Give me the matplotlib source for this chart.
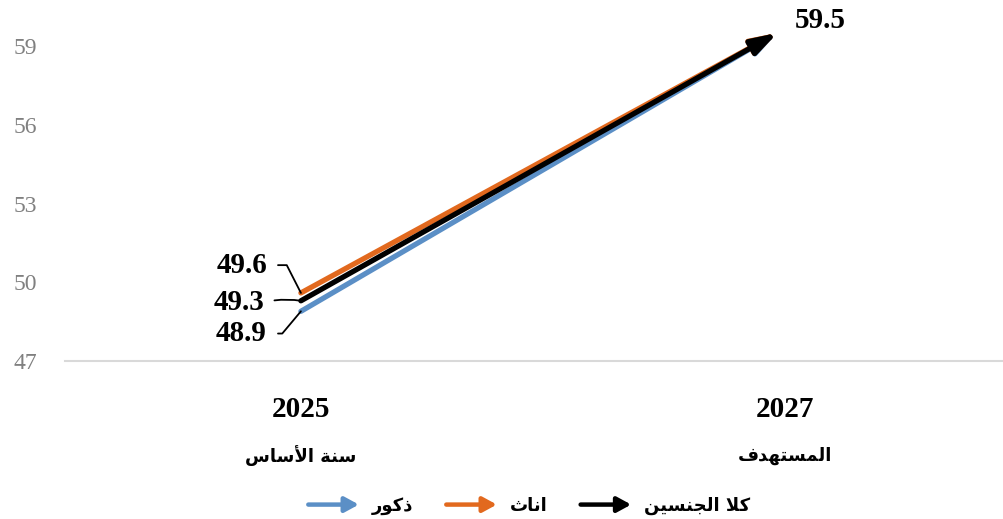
import matplotlib.pyplot as plt
import matplotlib.patches as mpatches
from matplotlib.legend_handler import HandlerPatch

# البيانات
years = ["2025", "2027"]
year_notes = ["سنة الأساس", "المستهدف"]
series_names = ["ذكور", "اناث", "كلا الجنسين"]
males = [48.9, 59.5]
females = [49.6, 59.5]
both = [49.3, 59.5]
y_ticks = [47, 50, 53, 56, 59]

colors = ["#5B8FC6", "#E2691E", "#000000"]

# --- تشكيل الحروف العربية (matplotlib لا يقوم بالتشكيل) ---
FORMS = {
    "ا": ("\uFE8D", "\uFE8E", None, None),
    "أ": ("\uFE83", "\uFE84", None, None),
    "ت": ("\uFE95", "\uFE96", "\uFE97", "\uFE98"),
    "ث": ("\uFE99", "\uFE9A", "\uFE9B", "\uFE9C"),
    "ج": ("\uFE9D", "\uFE9E", "\uFE9F", "\uFEA0"),
    "د": ("\uFEA9", "\uFEAA", None, None),
    "ذ": ("\uFEAB", "\uFEAC", None, None),
    "ر": ("\uFEAD", "\uFEAE", None, None),
    "س": ("\uFEB1", "\uFEB2", "\uFEB3", "\uFEB4"),
    "ف": ("\uFED1", "\uFED2", "\uFED3", "\uFED4"),
    "ك": ("\uFED9", "\uFEDA", "\uFEDB", "\uFEDC"),
    "ل": ("\uFEDD", "\uFEDE", "\uFEDF", "\uFEE0"),
    "م": ("\uFEE1", "\uFEE2", "\uFEE3", "\uFEE4"),
    "ن": ("\uFEE5", "\uFEE6", "\uFEE7", "\uFEE8"),
    "ه": ("\uFEE9", "\uFEEA", "\uFEEB", "\uFEEC"),
    "ة": ("\uFE93", "\uFE94", None, None),
    "و": ("\uFEED", "\uFEEE", None, None),
    "ي": ("\uFEF1", "\uFEF2", "\uFEF3", "\uFEF4"),
}
LAM_ALEF = {"ا": ("\uFEFB", "\uFEFC"), "أ": ("\uFEF7", "\uFEF8")}


def dual(c):
    return c in FORMS and FORMS[c][2] is not None


def shape(text):
    units = []
    i = 0
    while i < len(text):
        c = text[i]
        if c == "ل" and i + 1 < len(text) and text[i + 1] in LAM_ALEF:
            units.append(("LA", text[i + 1]))
            i += 2
        else:
            units.append(("C", c))
            i += 1
    out = []
    for k, (kind, c) in enumerate(units):
        prev = units[k - 1] if k > 0 else None
        nxt = units[k + 1] if k + 1 < len(units) else None
        join_prev = prev is not None and prev[0] == "C" and dual(prev[1])
        if kind == "LA":
            out.append(LAM_ALEF[c][1] if join_prev else LAM_ALEF[c][0])
            continue
        if c not in FORMS:
            out.append(c)
            continue
        join_next = dual(c) and nxt is not None and (nxt[0] == "LA" or nxt[1] in FORMS)
        iso, fin, ini, med = FORMS[c]
        if join_prev and join_next:
            out.append(med)
        elif join_prev:
            out.append(fin)
        elif join_next:
            out.append(ini)
        else:
            out.append(iso)
    return "".join(reversed(out))


plt.rcParams["font.family"] = ["Liberation Serif", "DejaVu Sans"]

fig = plt.figure(figsize=(10.04, 5.19), dpi=100)
ax = fig.add_axes([0.0647, 0.304, 0.9353, 0.696])

x = [0, 1]
for vals, col in zip([males, females, both], colors):
    ax.annotate("", xy=(x[1], vals[1]), xytext=(x[0], vals[0]),
                arrowprops=dict(arrowstyle="-|>,head_length=0.7,head_width=0.22", color=col,
                                lw=3.8, mutation_scale=22, shrinkA=0, shrinkB=0))

ax.set_xlim(-0.495, 1.475)
ax.set_ylim(47, 60.75)
ax.set_yticks(y_ticks)
ax.set_xticks([])
ax.tick_params(axis="y", length=0, labelsize=17, labelcolor="#808080", pad=20)
for sp in ["top", "right", "left"]:
    ax.spines[sp].set_visible(False)
ax.spines["bottom"].set_color("#D9D9D9")
ax.spines["bottom"].set_linewidth(1.5)

# تسميات القيم
lbl = dict(fontsize=21, fontweight="bold", textcoords="offset points",
           ha="right", va="center", annotation_clip=False)
ax.annotate(f"{females[0]:.1f}", xy=(0, females[0]), xytext=(-24.5, 20), **lbl,
            arrowprops=dict(arrowstyle="-", color="black", lw=1.3, relpos=(1, 0.5),
                            shrinkA=6, shrinkB=0,
                            connectionstyle="angle,angleA=0,angleB=117,rad=0"))
ax.annotate(f"{both[0]:.1f}", xy=(0, both[0]), xytext=(-26, -1), **lbl,
            arrowprops=dict(arrowstyle="-", color="black", lw=1.3, relpos=(1, 0.5),
                            shrinkA=5, shrinkB=0,
                            connectionstyle="arc3,rad=-0.1"))
ax.annotate(f"{males[0]:.1f}", xy=(0, males[0]), xytext=(-24.5, -16), **lbl,
            arrowprops=dict(arrowstyle="-", color="black", lw=1.3, relpos=(1, 0.5),
                            shrinkA=6, shrinkB=0,
                            connectionstyle="angle,angleA=0,angleB=-130,rad=0"))
ax.annotate(f"{both[1]:.1f}", xy=(1, both[1]), xytext=(31, 9), fontsize=21,
            fontweight="bold", textcoords="offset points", ha="center", va="center",
            annotation_clip=False)

# تسميات المحور الأفقي
offs = [0, 0.015]
for i, (yr, note) in enumerate(zip(years, year_notes)):
    ax.annotate(yr, xy=(x[i] + offs[i], 0), xycoords=("data", "axes fraction"),
                xytext=(0, -35), textcoords="offset points", ha="center", va="center",
                fontsize=21, fontweight="bold")
    ax.annotate(shape(note), xy=(x[i] + offs[i], 0), xycoords=("data", "axes fraction"),
                xytext=(0, -68), textcoords="offset points", ha="center", va="center",
                fontsize=13, fontweight="bold", family="DejaVu Sans")


def make_arrow(legend, orig_handle, xdescent, ydescent, width, height, fontsize):
    return mpatches.FancyArrowPatch((-xdescent, height / 2), (width - xdescent, height / 2),
                                    arrowstyle="-|>,head_length=0.55,head_width=0.3",
                                    mutation_scale=15, shrinkA=0, shrinkB=0)


handles = [mpatches.FancyArrowPatch((0, 0), (1, 1), color=c, lw=3.2) for c in colors]
fig.legend(handles, [shape(n) for n in series_names], loc="center",
           bbox_to_anchor=(0.527, 0.025), ncol=3, frameon=False, handlelength=2.8,
           columnspacing=1.85, handletextpad=0.7,
           handler_map={mpatches.FancyArrowPatch: HandlerPatch(patch_func=make_arrow)},
           prop={"family": "DejaVu Sans", "weight": "bold", "size": 13})

fig.savefig("out.png", dpi=100)
